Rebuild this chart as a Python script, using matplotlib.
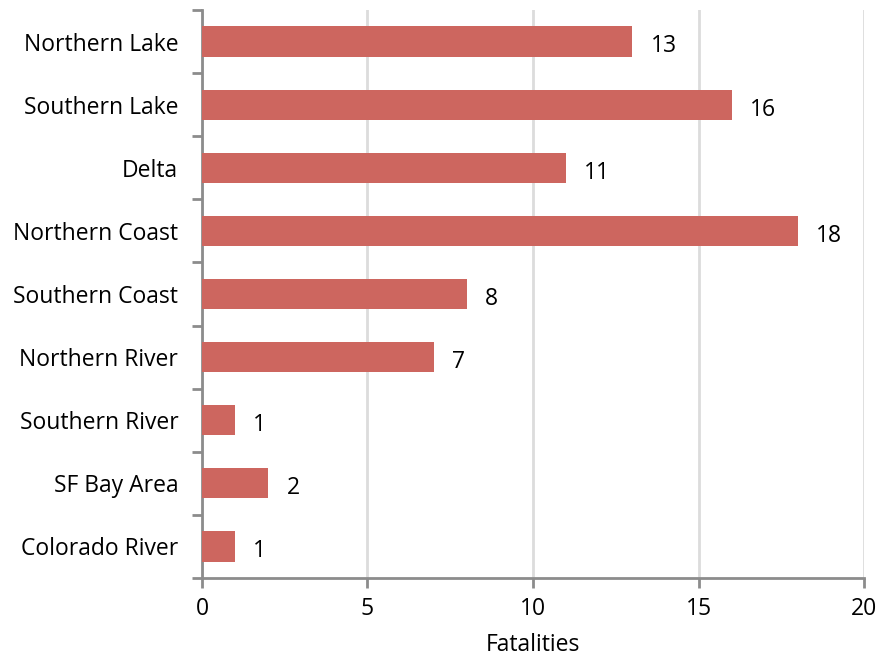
import numpy as np
import matplotlib.pyplot as plt

regions = ['Northern Lake', 'Southern Lake', 'Delta', 'Northern Coast', 'Southern Coast',
           'Northern River', 'Southern River', 'SF Bay Area', 'Colorado River']
fatalities = [13, 16, 11, 18, 8, 7, 1, 2, 1]

plt.rcParams['font.family'] = ['Open Sans', 'DejaVu Sans']

fig = plt.figure(figsize=(8.77, 6.59), dpi=100)
ax = fig.add_axes([0.2303, 0.1229, 0.7549, 0.8619])

y = np.arange(len(regions))
ax.barh(y, fatalities, height=0.48, color='#CD665F', zorder=3)
for yi, v in zip(y, fatalities):
    ax.text(v + 0.55, yi + 0.03, str(v), va='center_baseline', ha='left', fontsize=16.5, color='black')

ax.set_xlim(0, 20)
ax.set_ylim(len(regions) - 0.5, -0.5)
ax.set_xticks([0, 5, 10, 15, 20])
ax.set_yticks(y)
ax.set_yticklabels(regions, va='center_baseline')
ax.set_yticks(np.arange(-0.5, len(regions), 1), minor=True)
ax.tick_params(axis='y', which='major', length=0, pad=17, labelsize=16.5)
ax.tick_params(axis='y', which='minor', length=7, width=2, color='#8c8c8c')
ax.tick_params(axis='x', length=7, width=2, color='#8c8c8c', labelsize=16.5, pad=7)
ax.xaxis.grid(True, color='#dcdcdc', linewidth=2, zorder=0)

for s in ['top', 'right']:
    ax.spines[s].set_visible(False)
for s in ['left', 'bottom']:
    ax.spines[s].set_color('#8c8c8c')
    ax.spines[s].set_linewidth(2)

ax.set_xlabel('Fatalities', fontsize=16.5, labelpad=8)

plt.savefig('out.png', dpi=100)
